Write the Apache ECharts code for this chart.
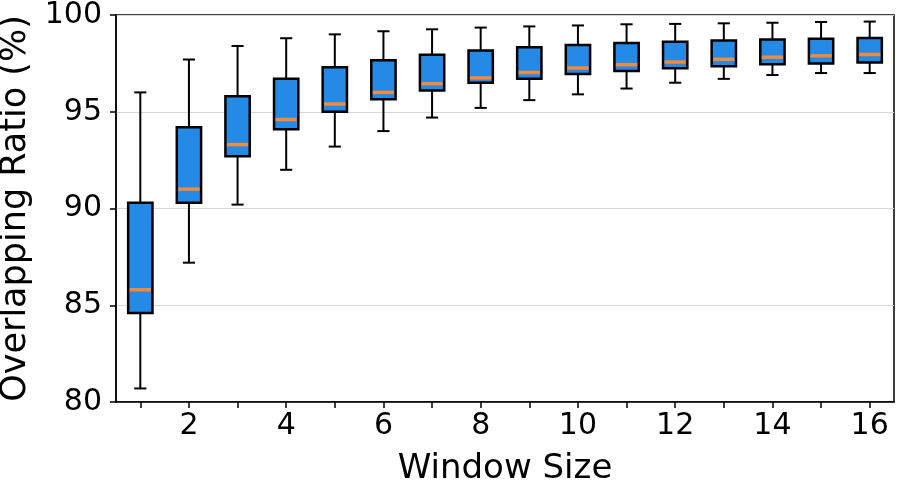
<!DOCTYPE html>
<html>
<head>
<meta charset="utf-8">
<script src="https://cdn.jsdelivr.net/npm/echarts@6/dist/echarts.min.js"></script>
<style>
  html, body { margin: 0; padding: 0; background: #fff; }
  #chart { width: 898px; height: 489px; }
</style>
</head>
<body>
<div id="chart"></div>
<script>
// window sizes 1..16
const windowSizes = ['1','2','3','4','5','6','7','8','9','10','11','12','13','14','15','16']
// box stats (%)
const whiskerLow = [80.7, 87.2, 90.2, 92.0, 93.2, 94.0, 94.7, 95.2, 95.6, 95.9, 96.2, 96.5, 96.7, 96.9, 97.0, 97.0]
const q1 =         [84.6, 90.3, 92.7, 94.1, 95.0, 95.65, 96.1, 96.5, 96.7, 96.95, 97.1, 97.25, 97.35, 97.45, 97.5, 97.55]
const median =     [85.8, 91.0, 93.3, 94.6, 95.4, 96.0, 96.45, 96.75, 97.03, 97.26, 97.43, 97.57, 97.71, 97.82, 97.89, 97.96]
const q3 =         [90.3, 94.2, 95.8, 96.7, 97.3, 97.66, 97.95, 98.17, 98.33, 98.45, 98.55, 98.62, 98.68, 98.74, 98.77, 98.81]
const whiskerHigh = [96.0, 97.7, 98.4, 98.8, 99.0, 99.16, 99.26, 99.35, 99.41, 99.46, 99.52, 99.54, 99.57, 99.6, 99.64, 99.66]

const boxData = windowSizes.map((w, i) => [i, whiskerLow[i], q1[i], median[i], q3[i], whiskerHigh[i]])

const chart = echarts.init(document.getElementById('chart'))
const fontFamily = 'DejaVu Sans'

// matplotlib style box: caps are half the box width
function renderBox(params, api) {
    const idx = api.value(0)
    const pLow = api.coord([idx, api.value(1)])
    const pQ1 = api.coord([idx, api.value(2)])
    const pMed = api.coord([idx, api.value(3)])
    const pQ3 = api.coord([idx, api.value(4)])
    const pHigh = api.coord([idx, api.value(5)])
    const band = api.size([1, 0])[0]
    const boxW = band * 0.5
    const capW = boxW * 0.5
    const x = pMed[0]
    const lineStyle = { stroke: '#000', lineWidth: 2 }
    return {
        type: 'group',
        children: [
            { type: 'line', shape: { x1: x, y1: pLow[1], x2: x, y2: pQ1[1] }, style: lineStyle },
            { type: 'line', shape: { x1: x, y1: pQ3[1], x2: x, y2: pHigh[1] }, style: lineStyle },
            { type: 'line', shape: { x1: x - capW / 2, y1: pLow[1], x2: x + capW / 2, y2: pLow[1] }, style: lineStyle },
            { type: 'line', shape: { x1: x - capW / 2, y1: pHigh[1], x2: x + capW / 2, y2: pHigh[1] }, style: lineStyle },
            {
                type: 'rect',
                shape: { x: x - boxW / 2, y: pQ3[1], width: boxW, height: pQ1[1] - pQ3[1] },
                style: { fill: '#2589e6', stroke: '#000', lineWidth: 2.5 }
            },
            {
                type: 'line',
                shape: { x1: x - boxW / 2 + 1.5, y1: pMed[1], x2: x + boxW / 2 - 1.5, y2: pMed[1] },
                style: { stroke: '#f08a3c', lineWidth: 3.5 }
            }
        ]
    }
}

const option = {
    backgroundColor: '#fff',
    animation: false,
    grid: {
        left: 116,
        right: 4,
        top: 15,
        bottom: 87,
        outerBoundsMode: 'none',
        containLabel: false,
        show: true,
        borderColor: '#000',
        borderWidth: 1.5,
        backgroundColor: 'transparent'
    },
    xAxis: {
        type: 'category',
        data: windowSizes,
        name: 'Window Size',
        nameLocation: 'middle',
        nameGap: 50,
        nameTextStyle: { fontFamily, fontSize: 34, color: '#000' },
        axisLine: { lineStyle: { color: '#000', width: 1.5 } },
        axisTick: { show: true, interval: 0, alignWithLabel: true, length: 6, lineStyle: { color: '#000', width: 1.5 } },
        axisLabel: {
            interval: (index) => index % 2 === 1,
            fontFamily, fontSize: 30, color: '#000', margin: 9
        },
        splitLine: { show: false }
    },
    yAxis: {
        type: 'value',
        min: 80,
        max: 100,
        interval: 5,
        name: 'Overlapping Ratio (%)',
        nameLocation: 'middle',
        nameGap: 75,
        nameTextStyle: { fontFamily, fontSize: 35, color: '#000' },
        axisLine: { show: true, lineStyle: { color: '#000', width: 1.5 } },
        axisTick: { show: true, length: 6, lineStyle: { color: '#000', width: 1.5 } },
        axisLabel: { fontFamily, fontSize: 30, color: '#000', margin: 14 },
        splitLine: { show: true, lineStyle: { color: '#d6d6d6', width: 1 } }
    },
    series: [{
        type: 'custom',
        renderItem: renderBox,
        encode: { x: 0, y: [1, 2, 3, 4, 5] },
        data: boxData,
        clip: false
    }]
}
chart.setOption(option)
</script>
</body>
</html>
